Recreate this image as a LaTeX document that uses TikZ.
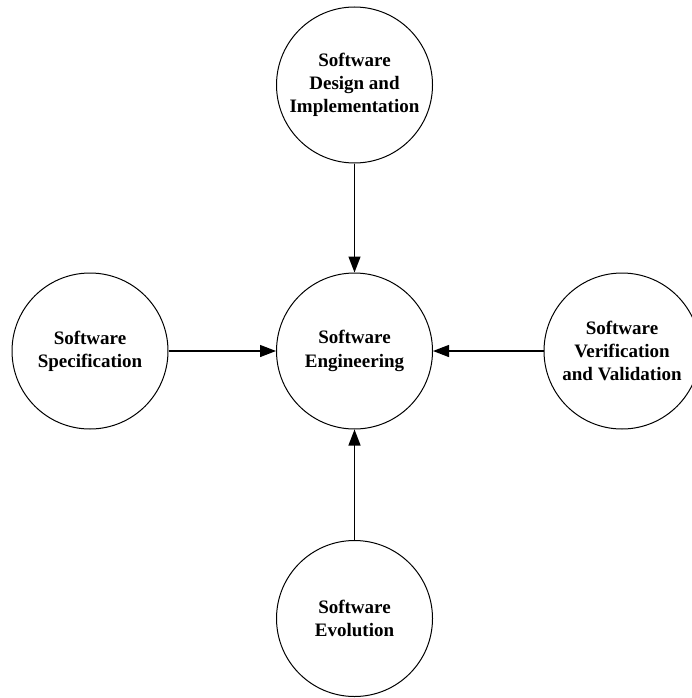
\documentclass[tikz,border=0pt]{standalone}
\usepackage{fontspec}
\setmainfont{Liberation Serif}
\usetikzlibrary{arrows.meta}

\begin{document}
\begin{tikzpicture}[x=1pt,y=-1pt, every node/.style={font=\bfseries\fontsize{19}{23.3}\selectfont},
	phase/.style={circle,draw,line width=1pt,minimum size=156pt,inner sep=0pt,align=center},
	flow/.style={line width=1.3pt,-{Triangle[length=16pt,width=12pt]}}]
	\useasboundingbox (0,0) rectangle (691,698);
	
	\node (eng) at (354.5,351) [phase] {Software\\Engineering};
	\node (design) at (354.5,85) [phase] {Software\\Design and\\Implementation};
	\node (spec) at (90,351) [phase] {Software\\Specification};
	\node (verif) at (622,351) [phase] {Software\\Verification\\and Validation};
	\node (evol) at (354.5,618.5) [phase] {Software\\Evolution};
	
	\draw[flow] (design) -- (eng);
	\draw[flow] (spec) -- (eng);
	\draw[flow] (verif) -- (eng);
	\draw[flow] (evol) -- (eng);
\end{tikzpicture}
\end{document}
